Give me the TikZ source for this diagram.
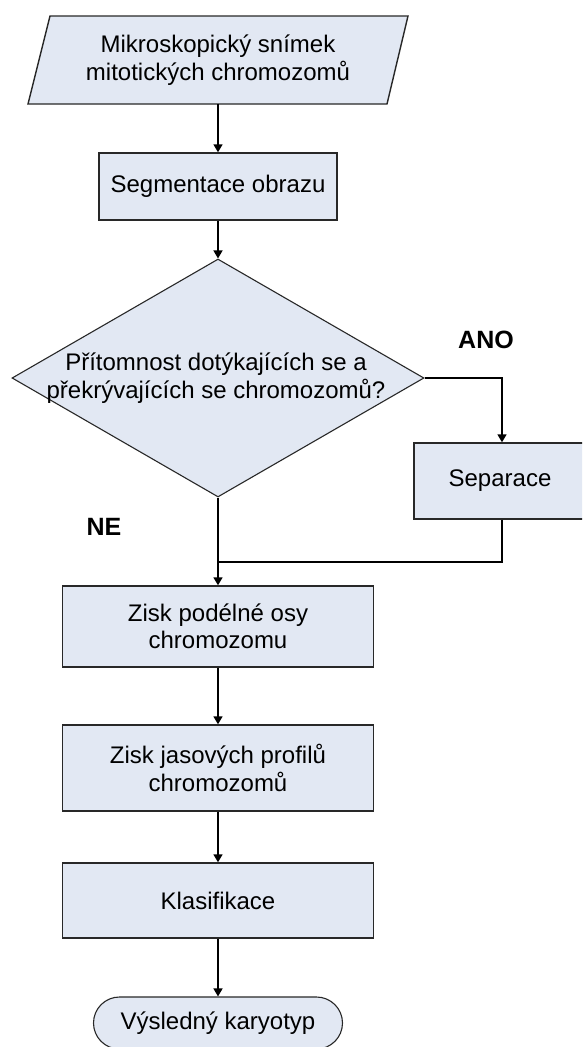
\documentclass[tikz,border=0pt]{standalone}
\usepackage{fontspec}
\setmainfont{Liberation Sans}
\usetikzlibrary{shapes.geometric,arrows.meta}
\definecolor{boxfill}{RGB}{226,232,243}
\definecolor{boxline}{RGB}{40,40,40}
\begin{document}
\begin{tikzpicture}[x=1pt,y=-1pt,
  every node/.style={font=\fontsize{24}{27.5}\selectfont},
  proc/.style={draw=boxline,fill=boxfill,line width=1.4pt,inner sep=0pt,align=center},
  decision/.style={diamond,draw=boxline,fill=boxfill,line width=1.1pt,inner sep=0pt,minimum width=412pt,minimum height=238pt},
  term/.style={draw=boxline,fill=boxfill,line width=1.1pt,inner sep=0pt,rounded corners=26pt,align=center},
  txt/.style={inner sep=0pt,align=center},
  lbl/.style={inner sep=0pt,font=\fontsize{25}{28}\selectfont\bfseries},
  arr/.style={line width=1.5pt,-{Triangle[length=8pt,width=9pt]}},
  ln/.style={line width=1.5pt}]
\useasboundingbox (0,0) rectangle (582,1047);
\clip (0,0) rectangle (582,1047);
\fill[white] (0,0) rectangle (582,1047);
% input parallelogram
\draw[draw=boxline,fill=boxfill,line width=1.4pt] (50,16) -- (408,16) -- (387,104) -- (28,104) -- cycle;
\node[txt,minimum height=88pt] (input) at (218,60) {Mikroskopický snímek\\mitotických chromozomů};
\node[proc,minimum width=238pt,minimum height=67pt] (seg) at (218,186.5) {Segmentace obrazu};
\node[decision] (dec) at (218,378) {};
\node[txt] (dectext) at (216,378) {Přítomnost dotýkajících se a\\překrývajících se chromozomů?};
\node[proc,minimum width=176pt,minimum height=76pt] (sep) at (502,481) {\hspace*{-4pt}Separace};
\node[proc,minimum width=311pt,minimum height=81pt] (z1) at (218,626.5) {Zisk podélné osy\\chromozomu};
\node[proc,minimum width=311pt,minimum height=86pt] (z2) at (218,768) {Zisk jasových profilů\\chromozomů};
\node[proc,minimum width=311pt,minimum height=75pt] (kl) at (218,900.5) {Klasifikace};
\node[term,minimum width=249pt,minimum height=52pt] (res) at (218,1023) {Výsledný karyotyp};
\node[lbl] (ano) at (486,340) {ANO};
\node[lbl] (ne) at (104,527) {NE};
\coordinate (join) at (218,562);
% connectors
\draw[arr] (input.south) -- (seg.north);
\draw[arr] (seg.south) -- (dec.north);
\draw[arr] (dec.east) -| (sep.north);
\draw[arr] (dec.south) -- (z1.north);
\draw[ln] (sep.south) |- (join);
\draw[arr] (z1.south) -- (z2.north);
\draw[arr] (z2.south) -- (kl.north);
\draw[arr] (kl.south) -- (res.north);
\end{tikzpicture}
\end{document}
